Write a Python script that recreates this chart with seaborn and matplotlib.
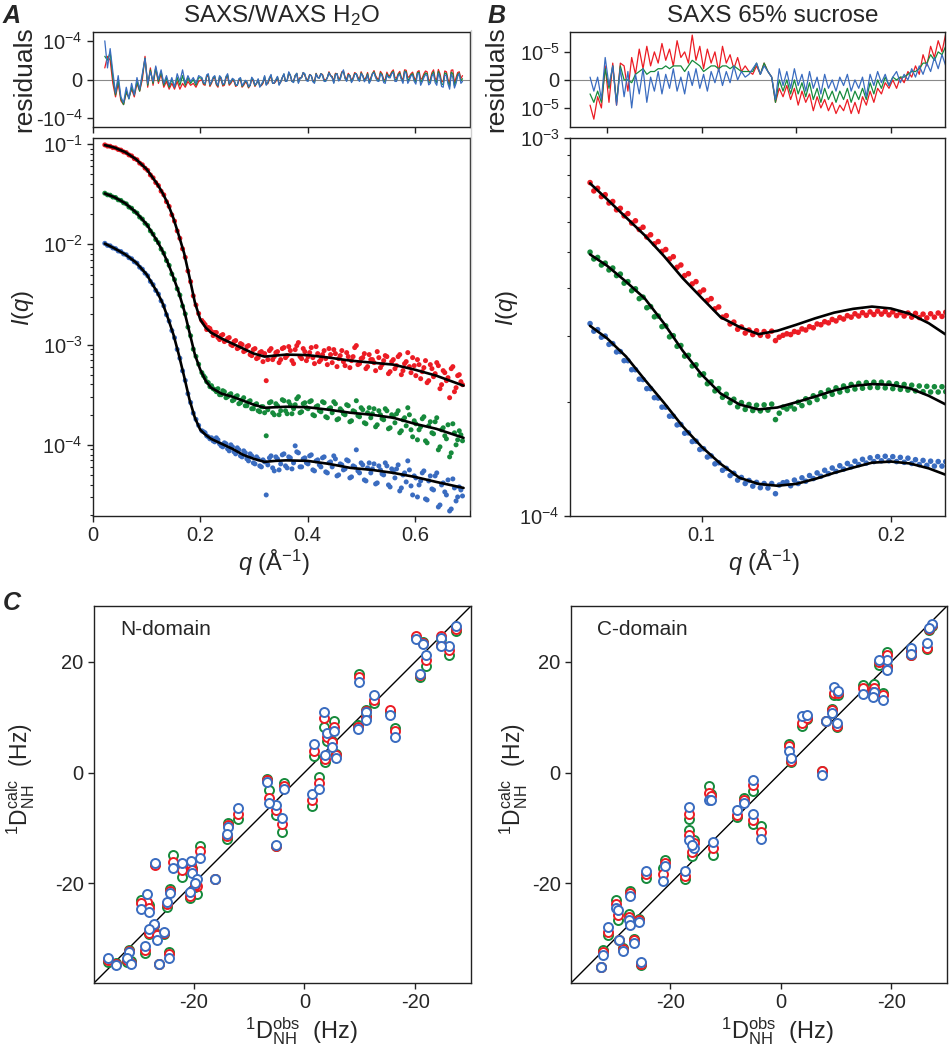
import numpy as np
import pandas as pd
import matplotlib
matplotlib.use("Agg")
import matplotlib.pyplot as plt
import seaborn as sns
from matplotlib.ticker import NullFormatter

sns.set_style("ticks")
plt.rcParams["font.family"] = ["Liberation Sans", "DejaVu Sans"]
plt.rcParams["mathtext.fontset"] = "custom"
plt.rcParams["mathtext.rm"] = "Liberation Sans"
plt.rcParams["mathtext.it"] = "Liberation Sans:italic"
plt.rcParams["mathtext.bf"] = "Liberation Sans:bold"
plt.rcParams["axes.unicode_minus"] = False

RED, GREEN, BLUE = "#ec1c24", "#168a3c", "#3a6cc0"
pal = {"red": RED, "green": GREEN, "blue": BLUE}
blk = {"red": "black", "green": "black", "blue": "black"}
sets = ["red", "green", "blue"]

# ---------------- panel A: SAXS/WAXS in H2O (log10 I) ----------------
qA_low = [0.022,0.027,0.032,0.037,0.042,0.047,0.052,0.057,0.062,0.067,0.072,0.077,0.082,0.087,0.092,0.097,0.102,0.107,
          0.112,0.117,0.122,0.127,0.132,0.137,0.142,0.147,0.152,0.157,0.162,0.167,0.172,0.177,0.182,0.187,0.192,0.197]
qA_high = [0.203,0.209,0.215,0.221,0.227,0.233,0.239,0.245,0.251,0.257,
           0.263,0.269,0.275,0.281,0.287,0.293,0.299,0.305,0.311,0.317,
           0.323,0.329,0.335,0.341,0.347,0.353,0.359,0.365,0.371,0.377,
           0.383,0.389,0.395,0.401,0.407,0.413,0.419,0.425,0.431,0.437,
           0.443,0.449,0.455,0.461,0.467,0.473,0.479,0.485,0.491,0.497,
           0.503,0.509,0.515,0.521,0.527,0.533,0.539,0.545,0.551,0.557,
           0.563,0.569,0.575,0.581,0.587,0.593,0.599,0.605,0.611,0.617,
           0.623,0.629,0.635,0.641,0.647,0.653,0.659,0.665,0.671,0.677,
           0.683,0.689]
qA_high2 = [0.206,0.212,0.218,0.224,0.230,0.236,0.242,0.248,0.254,0.260,
            0.266,0.272,0.278,0.284,0.290,0.296,0.302,0.308,0.314,0.320,
            0.326,0.332,0.338,0.344,0.350,0.356,0.362,0.368,0.374,0.380,
            0.386,0.392,0.398,0.404,0.410,0.416,0.422,0.428,0.434,0.440,
            0.446,0.452,0.458,0.464,0.470,0.476,0.482,0.488,0.494,0.500,
            0.506,0.512,0.518,0.524,0.530,0.536,0.542,0.548,0.554,0.560,
            0.566,0.572,0.578,0.584,0.590,0.596,0.602,0.608,0.614,0.620,
            0.626,0.632,0.638,0.644,0.650,0.656,0.662,0.668,0.674,0.680,
            0.686]

redA_low = [-1.008,-1.020,-1.022,-1.035,-1.038,-1.054,-1.060,-1.078,-1.085,-1.108,-1.118,-1.145,-1.156,-1.190,-1.206,-1.240,-1.262,-1.308,
            -1.336,-1.384,-1.414,-1.470,-1.506,-1.575,-1.622,-1.706,-1.768,-1.866,-1.940,-2.045,-2.130,-2.266,-2.372,-2.514,-2.605,-2.690]
greenA_low = [-1.490,-1.506,-1.510,-1.528,-1.533,-1.556,-1.562,-1.586,-1.596,-1.628,-1.640,-1.672,-1.688,-1.728,-1.748,-1.790,-1.812,-1.866,
              -1.898,-1.952,-1.984,-2.048,-2.088,-2.162,-2.210,-2.296,-2.352,-2.444,-2.506,-2.616,-2.694,-2.826,-2.912,-3.046,-3.118,-3.196]
blueA_low = [-1.990,-2.010,-2.015,-2.036,-2.043,-2.066,-2.072,-2.096,-2.104,-2.133,-2.144,-2.174,-2.188,-2.228,-2.248,-2.288,-2.314,-2.370,
             -2.402,-2.460,-2.496,-2.564,-2.614,-2.702,-2.766,-2.860,-2.932,-3.048,-3.136,-3.262,-3.358,-3.490,-3.578,-3.684,-3.746,-3.806]

redA_high = [-2.76,-2.80,-2.83,-2.87,-2.88,-2.93,-2.91,-2.97,-2.94,-3.00,
             -2.97,-3.04,-2.99,-3.07,-3.02,-3.10,-3.05,-3.14,-3.08,-3.17,
             -3.36,-3.06,-3.15,-3.08,-3.18,-3.04,-3.13,-3.02,-3.16,-3.05,
             -2.98,-3.14,-3.07,-3.12,-3.03,-3.19,-3.09,-3.15,-3.06,-3.20,
             -3.10,-3.05,-3.22,-3.11,-3.17,-3.08,-3.23,-3.12,-3.01,-3.19,
             -3.13,-3.24,-3.10,-3.15,-3.26,-3.13,-3.20,-3.11,-3.29,-3.17,
             -3.24,-3.12,-3.30,-3.19,-3.08,-3.28,-3.21,-3.15,-3.34,-3.23,
             -3.38,-3.20,-3.32,-3.18,-3.44,-3.26,-3.36,-3.53,-3.22,-3.43,
             -3.30,-3.40]
redA_high2 = [-2.78,-2.85,-2.84,-2.91,-2.88,-2.95,-2.90,-2.96,-2.93,-3.01,
              -2.96,-3.03,-3.00,-3.06,-3.01,-3.11,-3.04,-3.13,-3.07,-3.09,
              -3.15,-3.04,-3.12,-3.07,-3.15,-3.03,-3.11,-3.06,-3.19,-3.01,
              -3.12,-3.04,-3.16,-3.08,-3.13,-3.02,-3.17,-3.10,-3.14,-3.04,
              -3.18,-3.09,-3.14,-3.06,-3.21,-3.12,-3.16,-3.03,-3.20,-3.14,
              -3.09,-3.22,-3.15,-3.18,-3.07,-3.23,-3.16,-3.12,-3.27,-3.15,
              -3.21,-3.10,-3.26,-3.17,-3.22,-3.13,-3.31,-3.20,-3.27,-3.16,
              -3.36,-3.24,-3.29,-3.21,-3.40,-3.28,-3.33,-3.24,-3.47,-3.31,
              -3.37]
greenA_high = [-3.28,-3.33,-3.38,-3.41,-3.45,-3.44,-3.50,-3.47,-3.52,-3.49,
               -3.55,-3.51,-3.58,-3.53,-3.61,-3.56,-3.64,-3.59,-3.67,-3.62,
               -3.91,-3.58,-3.68,-3.59,-3.70,-3.55,-3.66,-3.57,-3.69,-3.60,
               -3.52,-3.67,-3.58,-3.64,-3.56,-3.71,-3.61,-3.67,-3.58,-3.73,
               -3.63,-3.57,-3.75,-3.64,-3.69,-3.60,-3.77,-3.66,-3.56,-3.72,
               -3.65,-3.79,-3.63,-3.69,-3.82,-3.66,-3.74,-3.64,-3.84,-3.70,
               -3.78,-3.66,-3.86,-3.73,-3.63,-3.85,-3.76,-3.95,-3.82,-3.72,
               -3.98,-3.77,-3.89,-3.73,-4.02,-3.83,-3.94,-4.12,-3.79,-4.00,
               -3.86,-3.96]
greenA_high2 = [-3.31,-3.37,-3.42,-3.44,-3.47,-3.50,-3.46,-3.53,-3.50,-3.56,
                -3.52,-3.59,-3.55,-3.61,-3.57,-3.64,-3.60,-3.66,-3.62,-3.68,
                -3.65,-3.57,-3.70,-3.61,-3.66,-3.56,-3.69,-3.60,-3.64,-3.54,
                -3.68,-3.59,-3.63,-3.57,-3.70,-3.62,-3.66,-3.57,-3.72,-3.64,
                -3.68,-3.59,-3.74,-3.66,-3.70,-3.61,-3.76,-3.67,-3.71,-3.63,
                -3.78,-3.68,-3.73,-3.64,-3.80,-3.70,-3.75,-3.66,-3.83,-3.72,
                -3.69,-3.88,-3.75,-3.81,-3.70,-3.92,-3.79,-3.85,-3.74,-3.96,
                -3.81,-3.88,-3.77,-4.05,-3.85,-3.91,-3.80,-4.08,-3.88,-3.95,
                -3.90]
blueA_high = [-3.86,-3.88,-3.92,-3.93,-3.97,-3.95,-4.01,-3.98,-4.04,-4.00,
              -4.07,-4.03,-4.11,-4.06,-4.14,-4.09,-4.18,-4.12,-4.21,-4.15,
              -4.50,-4.13,-4.23,-4.12,-4.25,-4.10,-4.21,-4.12,-4.24,-4.01,
              -4.08,-4.22,-4.13,-4.19,-4.10,-4.26,-4.15,-4.22,-4.12,-4.28,
              -4.17,-4.11,-4.31,-4.19,-4.25,-4.15,-4.33,-4.21,-4.05,-4.28,
              -4.20,-4.36,-4.18,-4.24,-4.39,-4.21,-4.29,-4.18,-4.40,-4.24,
              -4.33,-4.20,-4.43,-4.28,-4.16,-4.41,-4.31,-4.52,-4.36,-4.26,
              -4.55,-4.31,-4.45,-4.28,-4.60,-4.38,-4.50,-4.66,-4.34,-4.56,
              -4.42,-4.51]
blueA_high2 = [-3.87,-3.91,-3.94,-3.96,-3.93,-3.99,-4.02,-3.99,-4.06,-4.02,
               -4.09,-4.05,-4.12,-4.08,-4.16,-4.11,-4.19,-4.14,-4.22,-4.17,
               -4.20,-4.11,-4.26,-4.14,-4.19,-4.09,-4.23,-4.13,-4.18,-4.07,
               -4.22,-4.14,-4.18,-4.11,-4.25,-4.16,-4.20,-4.13,-4.27,-4.18,
               -4.22,-4.14,-4.30,-4.20,-4.24,-4.16,-4.32,-4.22,-4.26,-4.18,
               -4.35,-4.23,-4.28,-4.19,-4.38,-4.25,-4.30,-4.21,-4.42,-4.27,
               -4.24,-4.46,-4.30,-4.37,-4.25,-4.50,-4.33,-4.40,-4.28,-4.54,
               -4.36,-4.44,-4.31,-4.62,-4.40,-4.47,-4.35,-4.64,-4.43,-4.52,
               -4.45]

qfitA = [0.022,0.04,0.06,0.08,0.10,0.12,0.13,0.14,0.15,0.16,0.17,0.18,0.19,0.20,0.21,0.22,
         0.24,0.26,0.28,0.30,0.32,0.34,0.36,0.40,0.44,0.48,0.52,0.56,0.60,0.64,0.691]
redfitA = [-1.01,-1.035,-1.08,-1.15,-1.25,-1.40,-1.49,-1.60,-1.74,-1.91,-2.09,-2.33,-2.58,-2.75,-2.83,-2.88,
           -2.94,-2.99,-3.04,-3.09,-3.12,-3.11,-3.10,-3.105,-3.13,-3.16,-3.18,-3.20,-3.25,-3.31,-3.41]
greenfitA = [-1.493,-1.53,-1.59,-1.68,-1.80,-1.97,-2.07,-2.19,-2.33,-2.48,-2.66,-2.88,-3.10,-3.25,-3.36,-3.43,
             -3.49,-3.52,-3.56,-3.60,-3.63,-3.625,-3.62,-3.625,-3.65,-3.68,-3.70,-3.73,-3.79,-3.84,-3.93]
bluefitA = [-1.993,-2.04,-2.10,-2.18,-2.30,-2.48,-2.59,-2.74,-2.90,-3.10,-3.32,-3.55,-3.73,-3.85,-3.90,-3.94,
            -3.99,-4.04,-4.10,-4.14,-4.17,-4.16,-4.155,-4.16,-4.19,-4.23,-4.25,-4.28,-4.32,-4.37,-4.43]

# residuals A, in units of 1e-5 (on qA_low + qA_high, then on qA_high2)
redresA = [3.0,6.0,5.0,-1.0,-4.5,-1.0,-5.5,-6.5,-3.5,-4.5,-2.5,-4.5,-1.0,-3.0,0.0,6.0,-2.0,3.0,
           -1.5,3.0,-1.0,1.5,-2.0,-0.5,-2.5,-1.0,-2.5,-0.5,-2.5,-1.0,-2.0,-0.5,-1.5,-1.0,-2.0,-0.5,
           0.0,-1.5,1.0,-1.0,0.5,-2.0,0.0,-1.5,1.0,-1.0,
           -0.5,-1.5,0.0,-1.5,-1.0,-1.5,-0.5,-1.0,-1.5,-1.0,
           -1.0,0.0,-1.0,-0.5,-1.0,0.5,-0.5,1.5,-0.5,1.0,
           -0.5,0.5,1.0,0.0,1.0,-0.5,0.5,1.5,0.0,0.5,
           1.0,-0.5,1.5,0.5,2.0,0.0,1.0,0.5,1.5,0.0,
           1.0,0.5,-0.5,1.5,1.0,0.0,1.5,0.0,1.0,2.0,
           0.5,1.5,0.5,2.5,0.5,1.5,0.5,2.0,0.0,1.5,
           2.0,0.0,2.5,0.0,1.5,-0.5,2.0,-1.0,2.5,0.5,
           2.0,1.0]
redresA2 = [-1.3,0.7,-1.8,0.2,-1.4,0.5,-1.7,0.3,-1.5,-0.2,
            -1.8,-0.3,-2.0,-0.7,-2.2,0.1,-1.8,-0.3,-1.6,0.5,
            -1.1,0.9,-1.0,0.5,-0.7,1.2,-0.2,1.0,-0.4,1.5,
            0.5,1.8,0.1,1.3,-0.2,1.6,0.6,1.3,-0.1,2.0,
            0.8,1.6,0.1,2.0,0.7,1.6,-0.3,1.8,0.6,2.0,
            0.0,1.8,0.5,2.3,0.3,2.1,0.0,1.9,1.1,2.5,
            0.3,2.1,-0.1,2.4,0.8,1.9,-0.2,2.3,0.4,2.2,
            -0.4,1.8,0.2,2.6,-0.6,2.2,0.0,2.4,-1.0,1.8,
            0.2]
greenresA = [6.0,5.0,7.0,0.5,-4.0,0.0,-5.0,-6.5,-3.0,-5.0,-2.0,-4.0,-0.5,-3.0,1.0,5.5,-1.5,2.5,
             -1.0,3.0,-0.5,2.0,-1.5,0.5,-2.0,0.0,-2.0,0.5,-1.5,1.0,-1.5,0.5,-1.0,0.0,-1.5,0.5,
             0.3,-1.2,1.2,-0.7,0.8,-1.7,0.3,-1.2,1.2,-0.7,
             -0.2,-1.5,0.3,-1.2,-0.7,-1.5,-0.2,-1.0,-1.8,-0.7,
             -1.3,0.3,-1.0,-0.2,-1.3,0.5,-0.5,1.8,-0.5,1.0,
             -0.8,0.5,1.3,-0.3,1.0,-0.8,0.5,1.5,-0.3,0.5,
             1.0,-0.8,1.5,0.2,2.2,-0.3,1.0,0.2,1.5,-0.3,
             1.0,0.2,-0.8,1.5,0.7,-0.3,1.2,-0.5,0.7,1.7,
             0.0,1.2,0.2,2.2,-0.3,1.2,0.0,1.7,-0.8,1.0,
             1.5,-0.5,2.0,-0.8,1.0,-1.3,1.5,-1.8,1.5,-0.3,
             1.7,0.2]
greenresA2 = [-1.0,1.0,-1.5,0.4,-1.1,0.8,-1.4,0.6,-1.2,0.1,
              -1.5,0.0,-1.8,-0.4,-2.0,0.4,-1.6,0.0,-1.4,0.8,
              -0.9,1.1,-0.9,0.7,-0.6,1.4,-0.3,1.1,-0.6,1.6,
              0.3,1.8,-0.1,1.2,-0.4,1.5,0.4,1.1,-0.3,1.8,
              0.6,1.4,-0.2,1.8,0.4,1.3,-0.6,1.5,0.3,1.7,
              -0.3,1.5,0.1,2.0,-0.1,1.7,-0.4,1.5,0.7,2.1,
              -0.1,1.7,-0.6,2.0,0.3,1.5,-0.7,1.9,-0.1,1.7,
              -0.9,1.3,-0.3,2.1,-1.2,1.7,-0.6,1.9,-1.6,1.3,
              -0.4]
blueresA = [10.0,3.0,8.0,2.0,-3.5,1.0,-4.5,-6.0,-2.0,-5.0,-1.0,-4.0,0.5,-2.5,1.5,5.5,-1.0,2.0,
            -0.5,3.5,0.0,2.5,-1.0,1.0,-1.5,0.5,-2.0,1.5,-0.5,2.5,-1.0,1.0,-0.5,0.5,-1.0,1.0,
            0.5,-1.0,1.5,-0.5,1.0,-1.5,0.5,-1.0,1.5,-0.5,
            0.0,-1.5,0.5,-1.0,-0.5,-1.5,0.0,-1.0,-2.0,-0.5,
            -1.5,0.5,-1.0,0.0,-1.5,0.5,-0.5,2.0,-0.5,1.0,
            -1.0,0.5,1.5,-0.5,1.0,-1.0,0.5,1.5,-0.5,0.5,
            1.0,-1.0,1.5,0.0,2.5,-0.5,1.0,0.0,1.5,-0.5,
            1.0,0.0,-1.0,1.5,0.5,-0.5,1.0,-1.0,0.5,1.5,
            -0.5,1.0,0.0,2.0,-1.0,1.0,-0.5,1.5,-1.5,0.5,
            1.0,-1.0,1.5,-1.5,0.5,-2.0,1.0,-2.5,0.5,-1.0,
            1.5,-0.5]
blueresA2 = [-0.8,1.2,-1.3,0.6,-0.9,1.0,-1.2,0.8,-1.0,0.3,
             -1.3,0.2,-1.6,-0.2,-1.8,0.6,-1.4,0.2,-1.2,1.0,
             -0.7,1.3,-0.9,0.8,-0.6,1.5,-0.4,1.1,-0.8,1.6,
             0.2,1.8,-0.3,1.2,-0.6,1.4,0.3,1.0,-0.5,1.7,
             0.4,1.2,-0.4,1.6,0.2,1.1,-0.8,1.3,0.0,1.5,
             -0.6,1.2,-0.2,1.7,-0.4,1.4,-0.8,1.2,0.4,1.8,
             -0.5,1.3,-1.0,1.6,-0.2,1.1,-1.2,1.5,-0.6,1.3,
             -1.4,0.9,-0.8,1.6,-1.8,1.2,-1.2,1.4,-2.2,0.8,
             -1.0]

# ---------------- panel B: SAXS in 65% sucrose (log10 I) ----------------
qB = [0.041,0.043,0.045,0.047,0.049,0.051,0.053,0.055,0.057,0.059,
      0.061,0.063,0.065,0.067,0.069,0.071,0.073,0.075,0.077,0.079,
      0.081,0.083,0.085,0.087,0.089,0.091,0.093,0.095,0.097,0.099,
      0.101,0.103,0.105,0.107,0.109,0.111,0.113,0.115,0.117,0.119,
      0.121,0.123,0.125,0.127,0.129,0.131,0.133,0.135,0.137,0.139,
      0.141,0.143,0.145,0.147,0.149,0.151,0.153,0.155,0.157,0.159,
      0.161,0.163,0.165,0.167,0.169,0.171,0.173,0.175,0.177,0.179,
      0.181,0.183,0.185,0.187,0.189,0.191,0.193,0.195,0.197,0.199,
      0.201,0.203,0.205,0.207,0.209,0.211,0.213,0.215,0.217,0.219,
      0.221,0.223,0.225,0.227,0.229]
redB = [-3.118,-3.140,-3.133,-3.155,-3.150,-3.172,-3.168,-3.190,-3.186,-3.206,
        -3.200,-3.225,-3.219,-3.242,-3.236,-3.262,-3.256,-3.280,-3.274,-3.300,
        -3.295,-3.320,-3.314,-3.342,-3.336,-3.364,-3.359,-3.386,-3.380,-3.408,
        -3.402,-3.430,-3.425,-3.452,-3.447,-3.474,-3.470,-3.492,-3.487,-3.506,
        -3.500,-3.516,-3.508,-3.520,-3.510,-3.522,-3.512,-3.524,-3.511,-3.536,
        -3.527,-3.522,-3.518,-3.520,-3.512,-3.514,-3.505,-3.508,-3.499,-3.502,
        -3.492,-3.494,-3.486,-3.489,-3.480,-3.484,-3.475,-3.479,-3.470,-3.474,
        -3.465,-3.471,-3.462,-3.469,-3.460,-3.467,-3.458,-3.466,-3.459,-3.468,
        -3.460,-3.470,-3.462,-3.471,-3.463,-3.474,-3.464,-3.475,-3.466,-3.476,
        -3.465,-3.474,-3.463,-3.472,-3.461]
greenB = [-3.302,-3.320,-3.316,-3.336,-3.331,-3.349,-3.344,-3.364,-3.360,-3.384,
          -3.380,-3.404,-3.399,-3.425,-3.421,-3.449,-3.446,-3.473,-3.471,-3.499,
          -3.497,-3.526,-3.523,-3.551,-3.549,-3.577,-3.575,-3.603,-3.600,-3.627,
          -3.624,-3.650,-3.645,-3.669,-3.663,-3.686,-3.678,-3.700,-3.691,-3.711,
          -3.700,-3.718,-3.705,-3.721,-3.707,-3.722,-3.706,-3.720,-3.704,-3.745,
          -3.728,-3.712,-3.717,-3.709,-3.717,-3.699,-3.708,-3.690,-3.700,-3.682,
          -3.692,-3.674,-3.684,-3.667,-3.678,-3.661,-3.672,-3.656,-3.668,-3.652,
          -3.664,-3.649,-3.662,-3.647,-3.660,-3.646,-3.660,-3.646,-3.661,-3.648,
          -3.663,-3.650,-3.665,-3.652,-3.667,-3.654,-3.669,-3.656,-3.671,-3.657,
          -3.672,-3.658,-3.672,-3.658,-3.671]
blueB = [-3.491,-3.511,-3.507,-3.527,-3.524,-3.546,-3.544,-3.566,-3.565,-3.589,
         -3.589,-3.613,-3.613,-3.638,-3.639,-3.663,-3.663,-3.687,-3.688,-3.712,
         -3.712,-3.736,-3.736,-3.759,-3.758,-3.781,-3.780,-3.803,-3.802,-3.824,
         -3.822,-3.844,-3.841,-3.862,-3.859,-3.879,-3.874,-3.893,-3.887,-3.905,
         -3.898,-3.914,-3.906,-3.921,-3.911,-3.925,-3.914,-3.926,-3.914,-3.941,
         -3.918,-3.912,-3.910,-3.920,-3.905,-3.914,-3.899,-3.908,-3.893,-3.901,
         -3.886,-3.895,-3.879,-3.888,-3.873,-3.882,-3.867,-3.876,-3.861,-3.870,
         -3.855,-3.864,-3.850,-3.860,-3.846,-3.856,-3.843,-3.854,-3.842,-3.854,
         -3.843,-3.856,-3.845,-3.858,-3.847,-3.861,-3.851,-3.864,-3.853,-3.866,
         -3.855,-3.868,-3.856,-3.868,-3.856]

qfitB = [0.041,0.050,0.060,0.070,0.080,0.090,0.100,0.110,0.120,0.130,
         0.140,0.150,0.160,0.170,0.180,0.190,0.200,0.210,0.220,0.229]
redfitB = [-3.120,-3.162,-3.210,-3.258,-3.312,-3.371,-3.423,-3.474,-3.500,-3.519,
           -3.510,-3.494,-3.477,-3.462,-3.452,-3.446,-3.451,-3.465,-3.490,-3.520]
greenfitB = [-3.308,-3.338,-3.380,-3.425,-3.490,-3.563,-3.626,-3.676,-3.705,-3.718,
             -3.713,-3.699,-3.684,-3.668,-3.656,-3.651,-3.653,-3.662,-3.682,-3.705]
bluefitB = [-3.497,-3.530,-3.578,-3.640,-3.700,-3.763,-3.817,-3.862,-3.899,-3.915,
            -3.920,-3.915,-3.902,-3.886,-3.872,-3.859,-3.856,-3.861,-3.874,-3.891]

# residuals B, in units of 1e-5
redresB = [-0.9,-1.4,-0.6,-1.0,0.5,-0.8,0.6,-0.9,0.6,0.5,
           -0.4,0.8,0.2,1.1,0.4,1.2,0.5,1.0,0.6,1.3,
           0.7,1.1,0.5,1.4,0.8,1.0,0.6,1.6,0.7,1.2,
           0.4,1.1,0.6,1.0,0.3,1.2,0.6,0.9,0.4,0.8,
           0.3,0.5,0.3,0.2,0.5,0.2,0.6,0.3,0.1,-0.8,
           -0.3,-0.6,-0.2,-0.7,-0.3,-0.9,-0.4,-0.8,-0.5,-1.1,
           -0.6,-1.0,-0.7,-1.1,-0.8,-1.2,-0.9,-1.1,-0.7,-1.2,
           -0.8,-1.2,-0.6,-0.9,-0.4,-0.8,-0.3,-0.5,-0.1,-0.3,
           0.0,-0.3,0.1,-0.1,0.3,0.1,0.5,0.2,0.9,0.5,
           1.2,0.8,1.4,1.0,1.65]
greenresB = [-0.5,-0.8,-0.4,-0.8,0.4,-0.3,0.5,-0.8,0.5,0.0,
             0.0,-0.1,0.2,0.3,0.4,0.2,0.3,0.3,0.4,0.4,
             0.5,0.4,0.5,0.5,0.5,0.3,0.5,0.7,0.6,0.5,
             0.3,0.4,0.5,0.5,0.4,0.5,0.5,0.4,0.5,0.4,
             0.3,0.3,0.3,0.3,0.6,0.2,0.6,0.3,0.1,-0.8,
             0.0,-0.4,0.0,-0.5,0.0,-0.5,-0.1,-0.6,-0.1,-0.7,
             -0.3,-0.8,-0.3,-0.7,-0.4,-0.8,-0.4,-0.7,-0.3,-0.8,
             -0.4,-0.7,-0.3,-0.7,-0.1,-0.5,0.0,-0.3,0.1,-0.2,
             0.1,0.0,0.1,0.1,0.2,0.3,0.3,0.4,0.6,0.6,
             0.9,0.7,1.0,0.9,1.2]
blueresB = [0.1,-0.4,0.1,-0.7,0.8,-0.2,0.5,-0.9,0.4,-0.6,
            0.3,-1.0,0.2,-0.5,0.4,-0.8,0.1,-0.4,0.3,-0.5,
            0.2,-0.3,0.4,-0.4,0.1,-0.5,0.3,-0.2,0.4,-0.3,
            0.2,-0.4,0.3,-0.1,0.4,-0.2,0.3,-0.1,0.5,0.0,
            0.3,0.1,0.2,0.4,0.6,0.2,0.5,0.3,0.1,-0.7,
            0.4,-0.2,0.3,-0.3,0.4,-0.2,0.2,-0.4,0.3,-0.3,
            0.1,-0.5,0.2,-0.3,0.0,-0.4,0.1,-0.2,0.2,-0.4,
            0.0,-0.3,0.1,-0.6,0.2,-0.2,0.3,-0.1,0.2,-0.2,
            0.1,0.3,-0.1,0.2,0.0,0.4,0.1,0.5,0.2,0.6,
            0.3,0.8,0.4,0.9,0.5]

# ---------------- panel C: RDCs, observed vs calculated (Hz) ----------------
n_obs = [27.4,24.7,26.1,20.1,21.4,22.0,20.9,24.6,9.9,12.5,11.2,11.2,9.6,15.5,16.4,3.5,4.1,5.3,5.0,3.8,
         5.8,1.8,1.4,2.6,-3.6,-4.0,-5.1,-5.1,-6.3,-6.7,-11.9,-13.8,-14.0,-16.2,-18.8,-20.5,-22.1,-23.8,-27.0,-20.3,
         -19.4,-20.7,-24.2,-24.8,-28.4,-29.5,-28.1,-27.1,-28.0,-25.4,-26.7,-28.7,-24.4,-26.3,-31.6,-32.0,-31.3,-35.4,-34.0,-19.8]
n_blue = [26.5,24.3,22.8,24.1,23.2,21.2,17.9,22.9,16.4,14.0,11.0,9.5,7.8,10.5,6.4,11.0,7.2,7.6,4.6,3.1,
          2.7,5.2,-3.9,-2.9,-2.9,-8.2,-13.1,-5.9,-5.5,-1.7,-6.3,-9.8,-11.0,-19.3,-15.4,-16.0,-16.4,-17.2,-16.3,-18.2,
          -19.2,-21.6,-21.7,-23.4,-21.9,-24.6,-25.2,-27.3,-28.2,-28.8,-30.2,-31.4,-33.4,-34.6,-32.4,-33.4,-34.5,-33.4,-34.8,-20.0]
n_red = [26.0,24.6,22.2,24.6,23.4,20.4,17.6,23.1,17.3,13.1,11.2,10.0,8.2,11.3,7.5,9.9,6.4,8.3,5.5,2.5,
         3.1,3.9,-4.9,-1.9,-2.5,-9.3,-13.3,-6.7,-4.5,-1.4,-7.4,-9.5,-11.5,-19.3,-14.2,-16.6,-17.6,-16.1,-16.6,-17.6,
         -20.5,-22.3,-21.3,-23.8,-23.4,-23.6,-24.5,-27.5,-29.0,-29.0,-29.4,-32.0,-32.7,-34.6,-32.2,-33.9,-34.3,-33.9,-34.6,-20.3]
n_green = [25.5,24.2,21.2,24.4,23.6,19.2,17.3,23.0,17.8,12.6,11.4,10.3,8.6,11.0,8.1,8.3,5.8,9.3,5.8,1.9,
           3.4,3.0,-6.0,-0.7,-1.9,-10.7,-13.2,-7.7,-3.2,-1.1,-8.3,-9.1,-11.9,-19.2,-13.3,-17.0,-18.9,-14.8,-16.5,-17.3,
           -21.9,-22.7,-21.0,-24.2,-24.3,-23.0,-24.0,-27.6,-29.2,-29.2,-29.1,-32.6,-32.4,-34.6,-32.0,-34.2,-34.0,-34.2,-34.4,-20.6]

c_obs = [27.4,26.8,26.5,23.5,23.6,19.3,19.3,17.8,18.5,16.9,16.7,14.9,9.6,10.4,10.1,9.2,8.1,3.9,4.8,1.5,
         1.8,7.4,-5.1,-5.1,-3.6,-6.6,-8.0,-13.0,-12.6,-12.2,-16.7,-16.7,-15.7,-16.1,-17.3,-20.9,-21.4,-24.4,-27.4,-29.9,
         -29.5,-27.5,-27.3,-25.7,-31.3,-29.3,-26.6,-28.5,-32.2,-32.5,-25.3]
c_blue = [26.9,26.1,23.4,22.6,21.5,20.4,18.6,20.4,13.2,14.5,13.6,14.2,15.4,14.8,8.9,10.7,9.3,10.2,10.4,3.9,
          2.7,-0.5,-1.3,-7.4,-11.9,-5.5,-6.7,-4.9,-4.9,-12.5,-6.2,-12.1,-13.6,-13.0,-17.8,-16.9,-19.6,-17.8,-22.2,-24.4,
          -24.8,-26.6,-27.6,-27.0,-27.9,-30.2,-30.8,-32.2,-33.0,-35.2,-34.2]
c_red = [26.7,26.0,22.6,22.0,21.3,21.2,19.0,20.0,14.1,15.2,14.5,15.2,14.3,14.3,8.4,11.3,9.3,9.0,9.9,4.8,
         2.1,0.3,-2.3,-8.6,-10.7,-4.9,-7.7,-3.7,-4.3,-13.7,-7.4,-11.2,-12.7,-14.3,-18.6,-16.3,-18.4,-18.4,-21.7,-23.8,
         -25.8,-26.0,-27.2,-26.7,-28.8,-30.2,-30.3,-31.9,-32.4,-35.2,-34.6]
c_green = [26.5,25.8,22.4,21.8,21.2,21.8,19.2,19.4,14.3,16.0,15.0,15.8,14.0,14.1,8.3,11.5,9.3,8.4,9.7,5.1,
           1.9,0.3,-3.3,-9.2,-9.7,-4.5,-8.1,-2.5,-3.8,-14.8,-8.3,-10.3,-12.1,-15.0,-19.2,-15.8,-17.3,-19.0,-21.4,-23.0,
           -26.6,-25.6,-27.0,-26.5,-29.4,-30.2,-30.0,-31.6,-32.0,-35.2,-34.8]


def long_df(q, ys, col):
    return pd.DataFrame({"q": list(q) * len(ys),
                         col: [v for y in ys for v in y],
                         "set": [s for s, y in zip(sets, ys) for _ in y]})


qA = qA_low + qA_high + qA_high2
dfA = long_df(qA, [redA_low + redA_high + redA_high2,
                   greenA_low + greenA_high + greenA_high2,
                   blueA_low + blueA_high + blueA_high2], "logI")
dfA["I"] = 10 ** dfA["logI"]
fitA = long_df(qfitA, [redfitA, greenfitA, bluefitA], "logI")
fitA["I"] = 10 ** fitA["logI"]
resA = long_df(qA, [redresA + redresA2, greenresA + greenresA2, blueresA + blueresA2], "r")
resA = resA.sort_values(["set", "q"])

dfB = long_df(qB, [redB, greenB, blueB], "logI")
dfB["I"] = 10 ** dfB["logI"]
fitB = long_df(qfitB, [redfitB, greenfitB, bluefitB], "logI")
fitB["I"] = 10 ** fitB["logI"]
resB = long_df(qB, [redresB, greenresB, blueresB], "r")


def frame(ax):
    for s in ax.spines.values():
        s.set_visible(True)
        s.set_linewidth(1.0)
        s.set_color("#222222")
    ax.tick_params(which="major", direction="out", length=4.5, width=1.0,
                   labelsize=14.5, color="#222222", pad=3)
    ax.tick_params(which="minor", direction="out", length=2.5, width=0.8, color="#222222")


W, H = 951, 1050
fig = plt.figure(figsize=(W / 100, H / 100), dpi=100)


def box(l, t, r, b):
    return fig.add_axes([l / W, 1 - b / H, (r - l) / W, (b - t) / H])


# ---- A residuals
ax = box(93, 32, 470, 127)
ax.axhline(0, color="#8a8a8a", lw=0.8, zorder=0)
sns.lineplot(data=resA, x="q", y="r", hue="set", hue_order=sets, palette=pal,
             estimator=None, sort=True, lw=0.9, legend=False, ax=ax)
ax.set_xlim(0, 0.703)
ax.set_ylim(-12.3, 12.3)
ax.set_xticks([0, 0.2, 0.4, 0.6], labels=[])
ax.set_yticks([10, 0, -10], labels=["10$^{-4}$", "0", "-10$^{-4}$"])
ax.set_xlabel("")
ax.set_ylabel("residuals", fontsize=19)
ax.yaxis.set_label_coords(-0.15, 0.5)
frame(ax)

# ---- A main
ax = box(93, 138, 470, 516)
sns.scatterplot(data=dfA, x="q", y="I", hue="set", hue_order=sets, palette=pal,
                s=13, linewidth=0, legend=False, ax=ax)
sns.lineplot(data=fitA, x="q", y="I", hue="set", palette=blk, estimator=None,
             sort=False, lw=1.9, legend=False, ax=ax)
ax.set_yscale("log")
ax.set_xlim(0, 0.703)
ax.set_ylim(1.95e-5, 0.115)
ax.set_xticks([0, 0.2, 0.4, 0.6], labels=["0", "0.2", "0.4", "0.6"])
ax.set_yticks([1e-1, 1e-2, 1e-3, 1e-4], labels=["10$^{-1}$", "10$^{-2}$", "10$^{-3}$", "10$^{-4}$"])
ax.yaxis.set_minor_formatter(NullFormatter())
ax.set_xlabel(r"$q$ (Å$^{-1}$)", fontsize=17)
ax.xaxis.set_label_coords(0.48, -0.085)
ax.set_ylabel(r"$I$($q$)", fontsize=17)
ax.yaxis.set_label_coords(-0.15, 0.55)
frame(ax)

# ---- B residuals
ax = box(570, 32, 945, 127)
ax.axhline(0, color="#8a8a8a", lw=0.8, zorder=0)
sns.lineplot(data=resB, x="q", y="r", hue="set", hue_order=sets, palette=pal,
             estimator=None, sort=False, lw=0.9, legend=False, ax=ax)
ax.set_xlim(0.0304, 0.2286)
ax.set_ylim(-1.68, 1.71)
ax.set_xticks([0.05, 0.1, 0.15, 0.2], labels=[])
ax.set_yticks([1, 0, -1], labels=["10$^{-5}$", "0", "10$^{-5}$"])
ax.set_xlabel("")
ax.set_ylabel("residuals", fontsize=19)
ax.yaxis.set_label_coords(-0.165, 0.5)
frame(ax)

# ---- B main
ax = box(570, 138, 945, 516)
sns.scatterplot(data=dfB, x="q", y="I", hue="set", hue_order=sets, palette=pal,
                s=16, linewidth=0, legend=False, ax=ax)
sns.lineplot(data=fitB, x="q", y="I", hue="set", palette=blk, estimator=None,
             sort=False, lw=1.9, legend=False, ax=ax)
ax.set_yscale("log")
ax.set_xlim(0.0304, 0.2286)
ax.set_ylim(1e-4, 1e-3)
ax.set_xticks([0.1, 0.2], labels=["0.1", "0.2"])
ax.set_yticks([1e-3, 1e-4], labels=["10$^{-3}$", "10$^{-4}$"])
ax.yaxis.set_minor_formatter(NullFormatter())
ax.set_xlabel(r"$q$ (Å$^{-1}$)", fontsize=17)
ax.xaxis.set_label_coords(0.516, -0.085)
ax.set_ylabel(r"$I$($q$)", fontsize=17)
ax.yaxis.set_label_coords(-0.133, 0.55)
frame(ax)


# ---- C panels
def rdc_panel(ax, obs, ys, name, ylab_x):
    ax.axline((0, 0), slope=1, color="black", lw=1.0, zorder=1)
    for col, y in zip([GREEN, RED, BLUE], ys):
        sns.scatterplot(x=obs, y=y, color="white", edgecolor=col, s=42,
                        linewidth=1.4, zorder=3, ax=ax)
    ax.set_xlim(-38, 30.1)
    ax.set_ylim(-38, 30.1)
    ax.set_xticks([-20, 0, 20], labels=["-20", "0", "-20"])
    ax.set_yticks([-20, 0, 20], labels=["-20", "0", "20"])
    ax.text(0.07, 0.937, name, transform=ax.transAxes, fontsize=15, va="center")
    ax.set_xlabel(r"$^{1}\mathrm{D}_{\mathrm{NH}}^{\mathrm{obs}}$  (Hz)", fontsize=17)
    ax.xaxis.set_label_coords(0.55, -0.085)
    ax.set_ylabel(r"$^{1}\mathrm{D}_{\mathrm{NH}}^{\mathrm{calc}}$  (Hz)", fontsize=16.5)
    ax.yaxis.set_label_coords(ylab_x, 0.54)
    frame(ax)


ax = box(94, 606, 471, 983)
rdc_panel(ax, n_obs, [n_green, n_red, n_blue], "N-domain", -0.15)
ax = box(571, 606, 947, 983)
rdc_panel(ax, c_obs, [c_green, c_red, c_blue], "C-domain", -0.109)

# titles and panel letters
fig.text(282 / W, 1 - 16 / H, "SAXS/WAXS H$_2$O", fontsize=17.5, ha="center", va="center")
fig.text(773 / W, 1 - 16 / H, "SAXS 65% sucrose", fontsize=17.5, ha="center", va="center")
for letter, x, y in [("A", 12, 16), ("B", 497, 16), ("C", 12, 603)]:
    fig.text(x / W, 1 - y / H, letter, fontsize=18, fontweight="bold",
             fontstyle="italic", ha="center", va="center")
fig.add_artist(plt.Line2D([471 / W, 471 / W], [1 - 30 / H, 1 - 510 / H],
                          color="#cfcfcf", lw=1.0))

fig.savefig("out.png", dpi=100)
